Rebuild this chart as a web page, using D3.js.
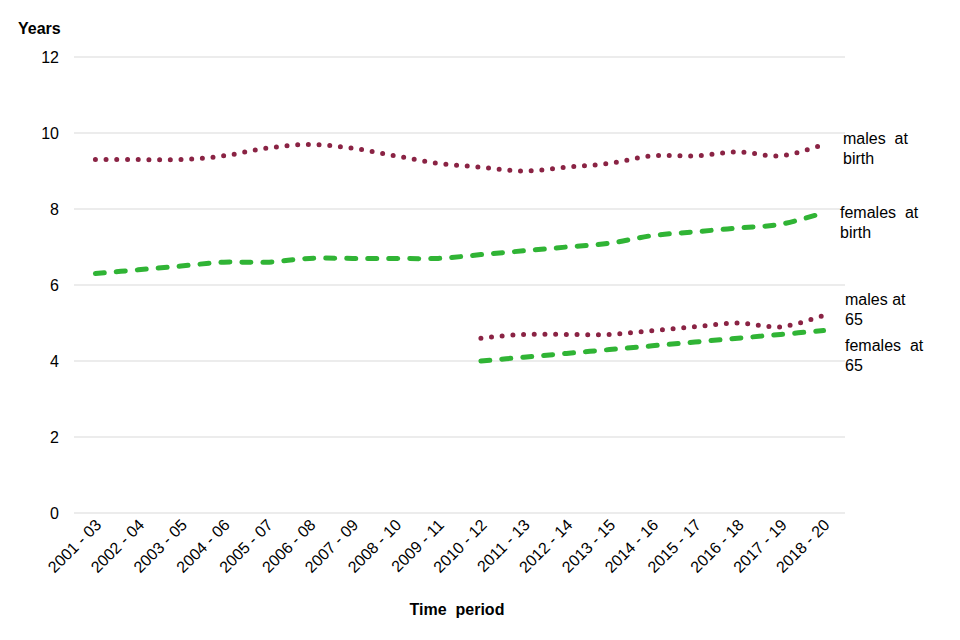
<!DOCTYPE html>
<html><head><meta charset="utf-8">
<script src="https://cdn.jsdelivr.net/npm/d3@7"></script>
<style>body{margin:0;background:#fff;font-family:"Liberation Sans",Arial,sans-serif;}</style>
</head><body><svg id="c" width="960" height="640"></svg>
<script>
const periods = ["2001 - 03","2002 - 04","2003 - 05","2004 - 06","2005 - 07","2006 - 08","2007 - 09","2008 - 10","2009 - 11","2010 - 12","2011 - 13","2012 - 14","2013 - 15","2014 - 16","2015 - 17","2016 - 18","2017 - 19","2018 - 20"];
const malesBirth   = [9.3,9.3,9.3,9.4,9.6,9.7,9.6,9.4,9.2,9.1,9.0,9.1,9.2,9.4,9.4,9.5,9.4,9.7];
const femalesBirth = [6.3,6.4,6.5,6.6,6.6,6.7,6.7,6.7,6.7,6.8,6.9,7.0,7.1,7.3,7.4,7.5,7.6,7.9];
const males65      = [null,null,null,null,null,null,null,null,null,4.6,4.7,4.7,4.7,4.8,4.9,5.0,4.9,5.2];
const females65    = [null,null,null,null,null,null,null,null,null,4.0,4.1,4.2,4.3,4.4,4.5,4.6,4.7,4.8];
const yTicks = [0,2,4,6,8,10,12];
const seriesLabels = [["males  at","birth"],["females  at","birth"],["males at","65"],["females  at","65"]];

(function(){
const svg = d3.select("#c");
const mL = 74, mR = 845, mT = 57, mB = 513;
const x = d3.scaleBand().domain(periods).range([mL, mR]);
const y = d3.scaleLinear().domain([0,12]).range([mB, mT]);

svg.append("g").selectAll("line").data(yTicks).join("line")
  .attr("x1", mL).attr("x2", mR)
  .attr("y1", d => y(d)).attr("y2", d => y(d))
  .attr("stroke", "#d9d9d9").attr("stroke-width", 1);

svg.append("g").selectAll("text").data(yTicks).join("text")
  .attr("x", 59).attr("y", d => y(d)).attr("dy", "0.35em")
  .attr("text-anchor", "end").attr("font-size", 16).attr("fill", "#000")
  .text(d => d);

svg.append("g").selectAll("text").data(periods).join("text")
  .attr("transform", d => `translate(${x(d) + x.bandwidth()/2 + 7},${mB + 13}) rotate(-45)`)
  .attr("text-anchor", "end").attr("font-size", 16).attr("fill", "#000")
  .text(d => d);

svg.append("text").attr("x", 18).attr("y", 34).attr("font-size", 16).attr("font-weight", "bold").text("Years");
svg.append("text").attr("x", 457).attr("y", 615).attr("text-anchor", "middle").attr("font-size", 16)
  .attr("font-weight", "bold").style("white-space", "pre").text("Time  period");

const cx = d => x(d) + x.bandwidth()/2;
const line = d3.line()
  .x(d => cx(d[0])).y(d => y(d[1])).curve(d3.curveCatmullRom.alpha(0.5));

function draw(vals, color, dash, width) {
  const data = periods.map((p, i) => [p, vals[i]]).filter(d => d[1] != null);
  svg.append("path").datum(data).attr("d", line)
    .attr("fill", "none").attr("stroke", color).attr("stroke-width", width)
    .attr("stroke-linecap", "round").attr("stroke-dasharray", dash);
}
const maroon = "#8a2344", green = "#30b435";
draw(femalesBirth, green, "9 12", 5);
draw(females65, green, "9 12", 5);
draw(malesBirth, maroon, "0 10.7", 5);
draw(males65, maroon, "0 10.7", 5);

const labelPos = [[843,144],[840,218],[845,305],[845,351]];
seriesLabels.forEach((lines, i) => {
  const t = svg.append("text").attr("font-size", 16).attr("fill", "#000").style("white-space", "pre");
  lines.forEach((s, j) => t.append("tspan").attr("x", labelPos[i][0]).attr("y", labelPos[i][1] + j*20).text(s));
});
})();
</script></body></html>
